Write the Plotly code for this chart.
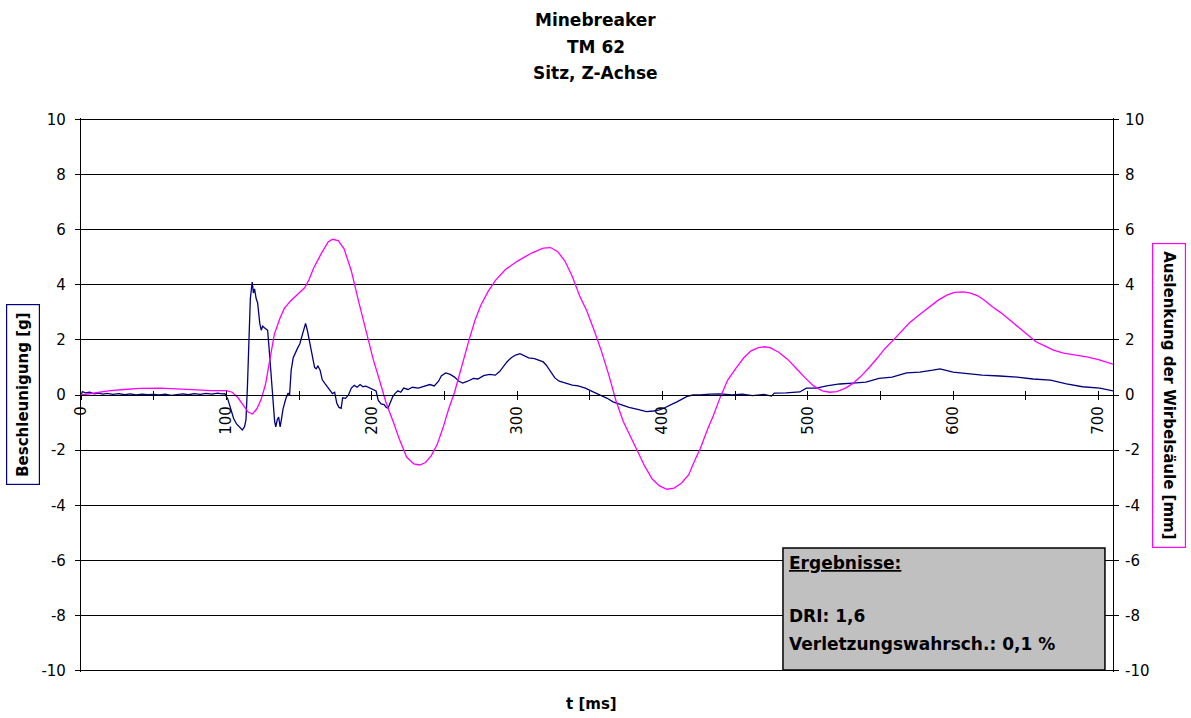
import plotly.graph_objects as go

# ---- Data: Beschleunigung [g] (blue, left axis) ----
t_acc = [0, 1, 3, 6, 9, 12, 15, 18, 22, 26, 30, 34, 38, 42, 46, 50, 54, 58, 62, 66, 70, 74, 78, 82, 86, 90, 94, 97, 99,
         101, 103, 105, 107, 109, 111, 112.5, 113.5, 114.5, 115.5, 116.5, 117.8, 118.6, 119.4, 120.5, 121.5, 122.3,
         123, 124, 125, 126, 127.3, 128.4, 129.7, 130.5, 131.5, 132.3, 133.2, 134, 135, 136, 137, 138, 139, 141,
         142.5, 143.5, 144.6, 146, 147.5, 149, 150.5, 152, 153, 154.5, 155.7, 157, 158.3, 159.6, 160.7, 161.8, 163,
         164.5, 166, 168, 171, 173, 174.5, 176, 177.5, 179, 180, 182, 184, 186, 188, 190, 192, 194, 196, 198.6, 201,
         203, 204.5, 206.5, 208.5, 210, 211.2, 212.5, 214.4, 216, 218, 220, 222, 225, 228, 232, 236, 240, 243, 246,
         248, 251, 254, 257, 260, 262.6, 266, 270, 273, 277, 281, 285, 288, 290, 293, 296, 299, 302, 305, 308, 312,
         315, 318, 320, 323, 326, 329, 332, 335, 338, 342, 347, 352, 357, 362, 366, 372, 377, 383, 389, 394, 398,
         401, 403, 407, 410, 414, 417, 421, 426, 433, 440, 448, 455, 462, 470, 475, 477, 485, 494.5, 499, 506, 513,
         522, 531, 540, 549, 558, 568, 577, 586, 591, 600, 610, 620, 632, 644, 655, 667, 678, 689, 701, 708, 710]
acc_g = [0.0, 0.12, 0.08, 0.1, 0.04, 0.07, 0.03, 0.06, 0.02, 0.05, 0.01, 0.04, 0.0, 0.03, 0.01, 0.02, 0.0, 0.03, -0.01,
         0.02, 0.04, 0.01, 0.05, 0.02, 0.06, 0.03, 0.07, 0.04, 0.05,
         -0.15, -0.5, -0.85, -1.05, -1.15, -1.27, -1.15, -0.9, 0.3, 2.0, 3.5, 4.1, 3.7, 3.85, 3.5, 3.35, 2.9,
         2.6, 2.35, 2.5, 2.45, 2.4, 2.35, 1.5, 0.9, 0.1, -0.5, -0.95, -1.16, -0.9, -0.8, -1.16, -0.85, -0.5, -0.12,
         0.07, 0.0, 0.9, 1.35, 1.55, 1.7, 1.85, 2.1, 2.3, 2.6, 2.35, 2.0, 1.6, 1.2, 1.0, 0.95, 1.05,
         0.9, 0.55, 0.4, 0.2, 0.05, 0.1, -0.3, -0.45, -0.48, -0.1, -0.12, 0.0, 0.25, 0.35, 0.28, 0.38, 0.3, 0.32, 0.25, 0.2,
         0.15, -0.2, -0.32, -0.35, -0.45, -0.48, -0.3, -0.07, 0.05, 0.15, 0.1, 0.25, 0.2, 0.28, 0.25, 0.32, 0.38, 0.33, 0.5,
         0.7, 0.8, 0.75, 0.65, 0.5, 0.43, 0.5, 0.6, 0.58, 0.7, 0.75, 0.72, 0.85, 1.0, 1.2, 1.35, 1.45, 1.5, 1.42, 1.35, 1.32,
         1.27, 1.2, 1.09, 0.85, 0.62, 0.5, 0.45, 0.4, 0.36, 0.33, 0.25, 0.12, 0.0, -0.12, -0.25, -0.35, -0.45, -0.52, -0.6, -0.58, -0.54,
         -0.48, -0.42, -0.32, -0.25, -0.12, -0.05, 0.0, 0.0, 0.03, 0.04, 0.0, 0.03, -0.02, 0.02, -0.04, 0.07, 0.08, 0.11, 0.25, 0.25, 0.33,
         0.4, 0.43, 0.47, 0.6, 0.65, 0.8, 0.83, 0.9, 0.95, 0.83, 0.78, 0.72, 0.69, 0.65, 0.58, 0.54, 0.4, 0.3, 0.25, 0.18, 0.15]

# ---- Data: Auslenkung der Wirbelsäule [mm] (magenta, right axis) ----
t_dis = [0, 10, 20, 30, 40, 55, 65, 75, 90, 100, 104, 108, 112, 115, 118, 121, 124, 127, 130, 133, 137, 140, 144, 149,
         154, 157, 160, 165, 170, 173, 177, 181, 186, 191, 196, 201, 205, 210, 215, 219, 224, 229, 233, 237, 241, 245,
         249, 253, 257, 262, 267, 271, 275, 280, 285, 292, 300, 310, 318, 323, 328, 333, 338, 343, 348, 353, 358, 363,
         368, 373, 378, 383, 388, 393, 398, 403, 408, 413, 418, 422, 426, 431, 435, 440, 445, 451, 456, 461, 466, 470,
         474, 480, 486, 492, 498, 504, 510, 515, 520, 526, 531, 536, 542, 548, 553, 559, 565, 570, 577, 584, 590, 596,
         601, 607, 612, 617, 622, 627, 633, 639, 645, 651, 657, 663, 669, 676, 684, 692, 700, 705, 710]
dis_mm = [0, 0.08, 0.16, 0.2, 0.24, 0.25, 0.22, 0.18, 0.16, 0.16, 0.1, -0.1, -0.4, -0.62, -0.69, -0.5, -0.15, 0.4, 1.3,
          2.2, 2.8, 3.15, 3.4, 3.65, 3.9, 4.2, 4.6, 5.1, 5.55, 5.65, 5.6, 5.3, 4.5, 3.4, 2.3, 1.3, 0.6, -0.3, -1.0, -1.6,
          -2.25, -2.5, -2.54, -2.45, -2.2, -1.8, -1.2, -0.5, 0.1, 1.1, 2.0, 2.7, 3.25, 3.75, 4.15, 4.55, 4.85, 5.15, 5.33,
          5.35, 5.2, 4.85, 4.3, 3.6, 3.05, 2.35, 1.6, 0.75, -0.2, -0.95, -1.5, -2.05, -2.6, -3.05, -3.3, -3.42, -3.38,
          -3.2, -2.9, -2.4, -1.95, -1.25, -0.75, -0.05, 0.55, 1.0, 1.35, 1.6, 1.72, 1.75, 1.72, 1.55, 1.3, 0.97, 0.63,
          0.33, 0.15, 0.1, 0.12, 0.25, 0.42, 0.65, 0.98, 1.35, 1.68, 2.0, 2.35, 2.62, 2.92, 3.2, 3.45, 3.63, 3.72, 3.74,
          3.7, 3.6, 3.42, 3.2, 2.98, 2.72, 2.45, 2.17, 1.93, 1.78, 1.63, 1.52, 1.45, 1.38, 1.28, 1.2, 1.12]

y_ticks = [-10, -8, -6, -4, -2, 0, 2, 4, 6, 8, 10]
y_ticktext = ["-10", "-8", "-6", "-4", "-2", "0", "2", "4", "6", "8", "10"]
x_ticks = [0, 50, 100, 150, 200, 250, 300, 350, 400, 450, 500, 550, 600, 650, 700]
x_ticktext = ["0", "", "100", "", "200", "", "300", "", "400", "", "500", "", "600", "", "700"]

title_lines = ["Minebreaker", "TM 62", "Sitz, Z-Achse"]
result_lines = ["<u>Ergebnisse:</u>", "DRI: 1,6", "Verletzungswahrsch.: 0,1 %"]

FONT = "DejaVu Sans"
NAVY = "#000080"
MAGENTA = "#FF00FF"

fig = go.Figure()
fig.add_trace(go.Scatter(x=t_acc, y=acc_g, mode="lines", line=dict(color=NAVY, width=1.3),
                         xaxis="x", yaxis="y", name="Beschleunigung"))
fig.add_trace(go.Scatter(x=t_dis, y=dis_mm, mode="lines", line=dict(color=MAGENTA, width=1.3),
                         xaxis="x2", yaxis="y2", name="Auslenkung"))

xr = [0, 710]
yr = [-10.05, 10.05]
tickfont = dict(family=FONT, size=15, color="black")

fig.update_layout(
    width=1191, height=718,
    margin=dict(l=81, r=78, t=118, b=46),
    paper_bgcolor="white", plot_bgcolor="white",
    showlegend=False,
    font=dict(family=FONT, color="black"),
    xaxis=dict(range=xr, domain=[0, 1], anchor="free", position=0.5,
               showline=True, linecolor="black", linewidth=1.2,
               ticks="outside", ticklen=4, tickcolor="black", tickwidth=1.2,
               tickvals=x_ticks, ticktext=x_ticktext, tickangle=-90,
               tickfont=tickfont, showgrid=False, zeroline=False),
    xaxis2=dict(range=xr, domain=[0, 1], overlaying="x", anchor="free", position=0.5,
                showline=False, ticks="inside", ticklen=4, tickcolor="black", tickwidth=1.2,
                tickvals=x_ticks, showticklabels=False, showgrid=False, zeroline=False),
    yaxis=dict(range=yr, tickvals=y_ticks, ticktext=y_ticktext, ticks="outside", ticklen=5, tickcolor="black",
               tickwidth=1.2, showline=True, linecolor="black", linewidth=1.2,
               showgrid=True, gridcolor="black", gridwidth=1.2, zeroline=False,
               tickfont=tickfont, ticklabelstandoff=6),
    yaxis2=dict(range=yr, tickvals=y_ticks, ticktext=y_ticktext, overlaying="y", side="right", anchor="x",
                ticks="outside", ticklen=5, tickcolor="black", tickwidth=1.2,
                showline=True, linecolor="black", linewidth=1.2,
                showgrid=False, zeroline=False, tickfont=tickfont, ticklabelstandoff=3),
)

# results box
fig.add_shape(type="rect", xref="paper", yref="paper", x0=0.6802, x1=0.9922, y0=0.0036, y1=0.2238,
              fillcolor="#c0c0c0", line=dict(color="black", width=1.5), layer="above")

ann = []
for txt, yy in zip(title_lines, [1.1769, 1.1282, 1.0812]):
    ann.append(dict(text=f"<b>{txt}</b>", xref="paper", yref="paper", x=0.499, y=yy,
                    xanchor="center", yanchor="middle", showarrow=False,
                    font=dict(family=FONT, size=17, color="black")))
for txt, yy in zip(result_lines, [0.1968, 0.1011, 0.0505]):
    ann.append(dict(text=f"<b>{txt}</b>", xref="paper", yref="paper", x=0.684, y=yy,
                    xanchor="left", yanchor="middle", showarrow=False,
                    font=dict(family=FONT, size=17, color="black")))
ann.append(dict(text="<b>t [ms]</b>", xref="paper", yref="paper", x=0.495, y=-0.0578,
                xanchor="center", yanchor="middle", showarrow=False,
                font=dict(family=FONT, size=15, color="black")))
ann.append(dict(text="<b>Beschleunigung [g]</b>", xref="paper", yref="paper", x=-0.0562, y=0.5,
                xanchor="center", yanchor="middle", showarrow=False, textangle=-90,
                bordercolor=NAVY, borderwidth=1.2, borderpad=7, bgcolor="white",
                font=dict(family=FONT, size=15, color="black")))
ann.append(dict(text="<b>Auslenkung der Wirbelsäule [mm]</b>", xref="paper", yref="paper", x=1.0543, y=0.5,
                xanchor="center", yanchor="middle", showarrow=False, textangle=90,
                bordercolor=MAGENTA, borderwidth=1.2, borderpad=7, bgcolor="white",
                font=dict(family=FONT, size=15, color="black")))
fig.update_layout(annotations=ann)

fig.write_html("out.html")
